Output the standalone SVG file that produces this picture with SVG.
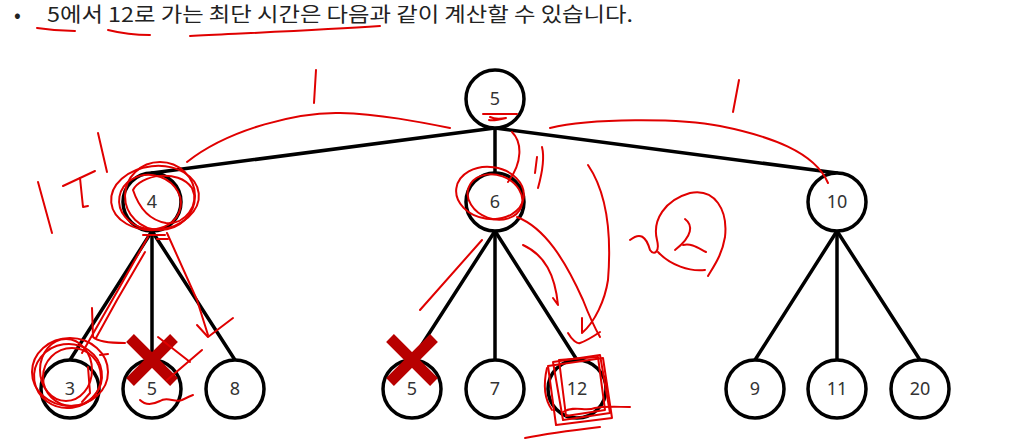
<svg xmlns="http://www.w3.org/2000/svg" width="1010" height="442" viewBox="0 0 1010 442">
<style>
.edge{stroke:#000;stroke-width:3.5;fill:none;stroke-linecap:round}
.node circle{fill:#fff;stroke:#000;stroke-width:3.5}
.node text{font-family:"Noto Sans","Open Sans","DejaVu Sans",sans-serif;font-size:18px;fill:#333;text-anchor:middle}
.hdr{font-family:"Noto Sans CJK KR","Noto Sans",sans-serif;font-size:20px;fill:#222}
.red{stroke:#e00000;stroke-width:2;fill:none;stroke-linecap:round;stroke-linejoin:round}
.x{stroke:#b80000;stroke-width:11;stroke-linecap:butt}
</style>
<rect width="1010" height="442" fill="#fff"/>
<text class="hdr" x="14" y="22">•</text>
<text class="hdr" x="47" y="22" textLength="586" lengthAdjust="spacingAndGlyphs">5에서 12로 가는 최단 시간은 다음과 같이 계산할 수 있습니다.</text>
<g id="connectors">
<line class="edge" x1="495" y1="128" x2="152" y2="173"/>
<line class="edge" x1="495" y1="128" x2="495" y2="173"/>
<line class="edge" x1="495" y1="128" x2="837" y2="173"/>
<line class="edge" x1="152" y1="231" x2="70" y2="360"/>
<line class="edge" x1="152" y1="231" x2="152" y2="360"/>
<line class="edge" x1="152" y1="231" x2="235" y2="360"/>
<line class="edge" x1="495" y1="231" x2="412" y2="360"/>
<line class="edge" x1="495" y1="231" x2="495" y2="360"/>
<line class="edge" x1="495" y1="231" x2="577" y2="360"/>
<line class="edge" x1="837" y1="231" x2="755" y2="360"/>
<line class="edge" x1="837" y1="231" x2="837" y2="360"/>
<line class="edge" x1="837" y1="231" x2="920" y2="360"/>
</g>
<g id="n-root" class="node"><circle cx="495" cy="99" r="29"/><text x="495" y="105">5</text></g>
<g id="n-4" class="node"><circle cx="152" cy="202" r="29"/><text x="152" y="208">4</text></g>
<g id="n-6" class="node"><circle cx="495" cy="202" r="29"/><text x="495" y="208">6</text></g>
<g id="n-10" class="node"><circle cx="837" cy="202" r="29"/><text x="837" y="208">10</text></g>
<g id="n-3" class="node"><circle cx="70" cy="389" r="29"/><text x="70" y="395">3</text></g>
<g id="n-5a" class="node"><circle cx="152" cy="389" r="29"/><text x="152" y="395">5</text></g>
<g id="n-8" class="node"><circle cx="235" cy="389" r="29"/><text x="235" y="395">8</text></g>
<g id="n-5b" class="node"><circle cx="412" cy="389" r="29"/><text x="412" y="395">5</text></g>
<g id="n-7" class="node"><circle cx="495" cy="389" r="29"/><text x="495" y="395">7</text></g>
<g id="n-12" class="node"><circle cx="577" cy="389" r="29"/><text x="577" y="395">12</text></g>
<g id="n-9" class="node"><circle cx="755" cy="389" r="29"/><text x="755" y="395">9</text></g>
<g id="n-11" class="node"><circle cx="837" cy="389" r="29"/><text x="837" y="395">11</text></g>
<g id="n-20" class="node"><circle cx="920" cy="389" r="29"/><text x="920" y="395">20</text></g>
<g id="crosses">
<line class="x" x1="130" y1="338" x2="174" y2="382"/>
<line class="x" x1="174" y1="338" x2="130" y2="382"/>
<line class="x" x1="390" y1="338" x2="434" y2="382"/>
<line class="x" x1="434" y1="338" x2="390" y2="382"/>
</g>
<g id="annotations" class="red">
<path d="M37,28 C50,30 65,31 75,31"/>
<path d="M108,30 C120,33 135,35 150,35"/>
<path d="M190,36 C250,33 320,30 380,26"/>
<path d="M316,70 L314,103"/>
<path d="M187,162 C230,128 300,112 340,113 C380,114 420,122 450,128"/>
<path d="M38,182 L52,233"/>
<path d="M63,186 L95,171"/>
<path d="M80,178 L83,207 L88,206"/>
<path d="M98,133 L107,172"/>
<ellipse cx="155" cy="198" rx="44" ry="32" transform="rotate(-6 155 198)"/>
<ellipse cx="160" cy="196" rx="35" ry="34"/>
<ellipse cx="150" cy="202" rx="31" ry="27" transform="rotate(10 150 202)"/>
<path d="M133,190 C140,175 178,168 192,188 C200,205 185,225 166,223 C148,220 138,205 133,190"/>
<path d="M143,235 L165,235 M157,239 L168,239"/>
<path d="M148,237 L118,290 L82,353"/>
<path d="M145,252 L117,300 L96,338"/>
<path d="M167,233 L197,300 L208,335"/>
<path d="M92,308 L93,337 C98,342 110,343 125,343"/>
<path d="M100,355 L108,354"/>
<ellipse cx="70" cy="372" rx="38" ry="34"/>
<ellipse cx="68" cy="376" rx="34" ry="32" transform="rotate(-8 68 376)"/>
<ellipse cx="72" cy="377" rx="29" ry="29"/>
<ellipse cx="66" cy="370" rx="26" ry="31"/>
<path d="M82,402 L90,393 L88,367"/>
<path d="M158,337 L190,362"/>
<path d="M167,380 L202,350"/>
<path d="M140,400 C145,405 152,405 160,401 C167,396 175,403 182,400 C186,398 190,396 193,395"/>
<path d="M197,325 L208,337 L233,318"/>
<path d="M483,114 L517,114"/>
<path d="M490,117 C494,119 500,119 506,118 C498,120 493,121 489,120"/>
<path d="M512,132 C522,142 523,162 508,182"/>
<path d="M537,157 L535,173"/>
<path d="M542,147 C544,155 543,170 538,188"/>
<ellipse cx="490" cy="193" rx="34" ry="26" transform="rotate(8 490 193)"/>
<ellipse cx="495" cy="197" rx="28" ry="22" transform="rotate(20 495 197)"/>
<path d="M550,128 C590,118 680,118 720,126 C770,136 815,152 828,183"/>
<path d="M739,80 L733,112"/>
<path d="M517,217 C545,228 565,260 583,300 C590,318 596,330 600,337"/>
<path d="M523,245 C545,255 555,275 558,305 L553,298"/>
<path d="M588,165 C605,190 612,230 608,280 C605,300 595,322 582,333 L582,318"/>
<path d="M568,333 C572,340 577,344 580,343 C586,341 594,336 600,332"/>
<path d="M482,240 L420,310"/>
<path d="M630,240 C640,232 646,236 650,250 C654,256 660,252 657,240 C652,220 665,200 690,193 C715,188 728,210 725,237 C722,255 714,266 708,276"/>
<path d="M658,252 C670,265 690,272 705,270"/>
<path d="M685,219 C693,225 693,236 675,250"/>
<path d="M683,245 C692,243 698,248 706,252"/>
<polygon points="553,362 600,355 610,413 563,420"/>
<polygon points="548,366 603,358 612,418 556,425"/>
<polygon points="559,360 598,357 605,410 566,416"/>
<path d="M547,368 C543,385 545,400 552,410"/>
<path d="M563,412 C575,405 585,412 595,408 C605,406 618,407 630,407"/>
<path d="M525,438 C550,433 575,430 600,427"/>
</g>
</svg>
